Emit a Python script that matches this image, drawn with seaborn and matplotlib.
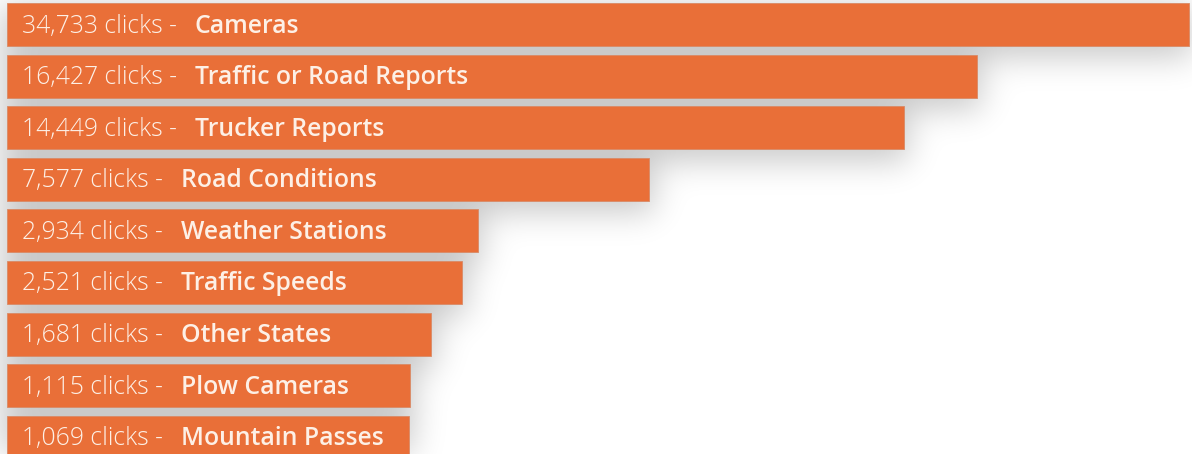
# Clicks per map layer - horizontal bar chart

import numpy as np
import pandas as pd
import seaborn as sns
import matplotlib.pyplot as plt

# ---------------------------------------------------
# DATA
# ---------------------------------------------------

categories = ['Cameras', 'Traffic or Road Reports', 'Trucker Reports',
              'Road Conditions', 'Weather Stations', 'Traffic Speeds',
              'Other States', 'Plow Cameras', 'Mountain Passes']
clicks = [34733, 16427, 14449, 7577, 2934, 2521, 1681, 1115, 1069]

data = pd.DataFrame({'category': categories, 'clicks': clicks})

# every bar gets a fixed room for its label plus its clicks,
# and the longest one is cut at the panel edge
LABEL_ROOM = 9790
PANEL_MAX = 31960
data['bar_len'] = np.minimum(data['clicks'] + LABEL_ROOM, PANEL_MAX)

BAR_COLOR = '#E96F38'
TEXT_COLOR = '#FDF0E6'

# ---------------------------------------------------
# PLOT
# ---------------------------------------------------

sns.set_theme(style='white')
plt.rcParams['font.family'] = ['Open Sans', 'DejaVu Sans']

fig = plt.figure(figsize=(11.92, 4.54), dpi=100)
fig.patch.set_facecolor('white')
ax = fig.add_axes([0, 0, 1, 1])
ax.patch.set_alpha(0)

sns.barplot(data=data, x='bar_len', y='category', orient='h',
            color=BAR_COLOR, saturation=1, width=0.83,
            edgecolor='#D98A66', linewidth=0.6, ax=ax, zorder=3)

ax.set_xlim(-189, 32036)
ax.set_ylim(8.324, -0.475)
ax.axis('off')

# labels: "N clicks -" light, then the category name bold
for i, row in data.iterrows():
    t = ax.annotate(f"{row['clicks']:,} clicks -", xy=(0, i),
                    xytext=(15, -8), textcoords='offset pixels',
                    va='baseline', ha='left', fontsize=17.8,
                    fontweight='light', color=TEXT_COLOR, zorder=4)
    ax.annotate(row['category'], xy=(1, i), xycoords=(t, 'data'),
                xytext=(18, -8), textcoords='offset pixels',
                va='baseline', ha='left', fontsize=17.8,
                fontweight='semibold', color=TEXT_COLOR, zorder=4)

# ---------------------------------------------------
# SOFT SHADOW behind the bars
# ---------------------------------------------------

fig.canvas.draw()
W, H = fig.canvas.get_width_height()
mask = np.zeros((H, W))
spread, drop = 5, 8
for p in ax.patches:
    bb = p.get_window_extent()
    r0 = int(max(H - bb.y1 - spread + drop, 0))
    r1 = int(min(H - bb.y0 + spread + drop, H))
    c0 = int(max(bb.x0 - spread, 0))
    c1 = int(min(bb.x1 + spread, W))
    mask[r0:r1, c0:c1] = 1

sigma = 16
k = np.exp(-0.5 * (np.arange(-3 * sigma, 3 * sigma + 1) / sigma) ** 2)
k /= k.sum()
blur = np.apply_along_axis(lambda r: np.convolve(r, k, mode='same'), 1, mask)
blur = np.apply_along_axis(lambda c: np.convolve(c, k, mode='same'), 0, blur)

shadow = np.zeros((H, W, 4))
shadow[..., 3] = 0.21 * blur
fig.figimage(shadow, origin='upper', zorder=-1)

plt.savefig('out.png', dpi=100)
